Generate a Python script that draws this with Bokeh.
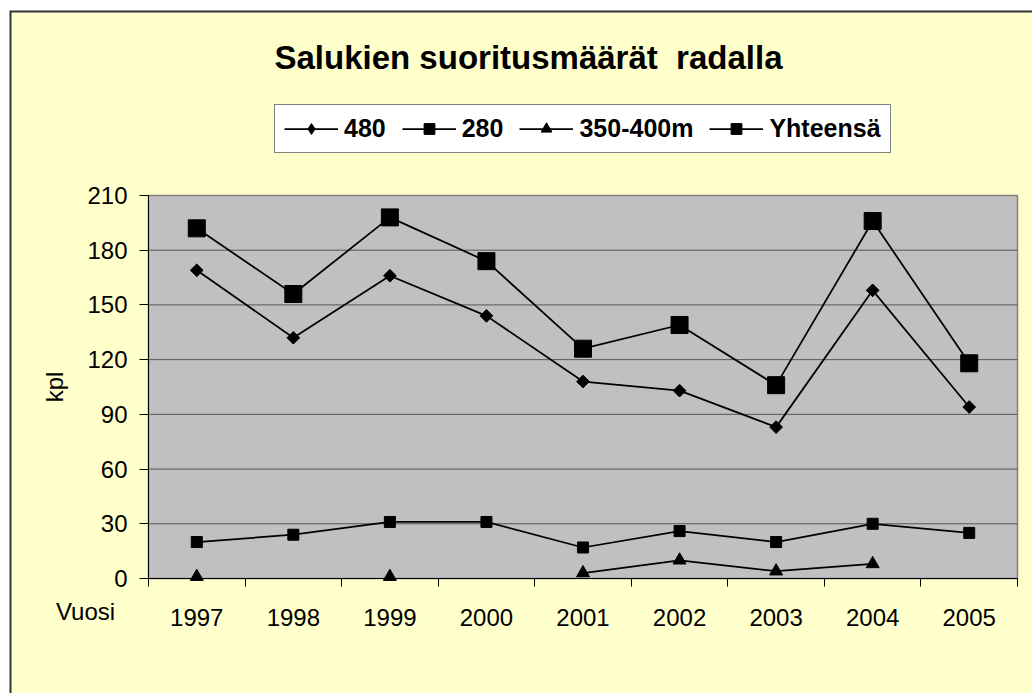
import math
from bokeh.plotting import figure
from bokeh.models import Range1d, FixedTicker, Legend, LegendItem, Label, BoxAnnotation
from bokeh.embed import file_html
from bokeh.resources import INLINE

# ---- data ----
years = ["1997", "1998", "1999", "2000", "2001", "2002", "2003", "2004", "2005"]
s480 = [169, 132, 166, 144, 108, 103, 83, 158, 94]
s280 = [20, 24, 31, 31, 17, 26, 20, 30, 25]
s350 = [1, float("nan"), 1, float("nan"), 3, 10, 4, 8, float("nan")]
total = [192, 156, 198, 174, 126, 139, 106, 196, 118]
y_ticks = [0, 30, 60, 90, 120, 150, 180, 210]

title_text = "Salukien suoritusmäärät \u00a0radalla"
FONT = "Liberation Sans"

W, H = 1032, 693
# plot-area placement on the canvas (pixels)
PL, PR, PT, PB = 148, 1017, 195, 578

xs = [i + 1 for i, _ in enumerate(years)]
xa, xb = 0.5, len(years) + 0.5
ya, yb = y_ticks[0], y_ticks[-1]
kx = (PR - PL) / (xb - xa)
ky = (PB - PT) / (yb - ya)
x_range = Range1d(xa - PL / kx, xb + (W - PR) / kx)
y_range = Range1d(ya - (H - PB) / ky, yb + PT / ky)

p = figure(width=W, height=H, output_backend="svg", toolbar_location=None,
           x_range=x_range, y_range=y_range, min_border=0)
p.border_fill_color = "white"
p.background_fill_color = "white"
p.outline_line_color = None
p.xgrid.visible = False
p.ygrid.visible = False
# off-screen range used only so the 480 legend key can show a diamond
p.extra_y_ranges = {"key": Range1d(10000, 20000)}

# chart area: dark top/left edge, pale yellow fill
p.add_layout(BoxAnnotation(left=9, right=W + 50, top=H - 10, bottom=-50,
                           left_units="screen", right_units="screen",
                           top_units="screen", bottom_units="screen", level="underlay",
                           fill_color="#333333", fill_alpha=1, line_color=None))
p.add_layout(BoxAnnotation(left=11, right=W + 50, top=H - 12, bottom=-50,
                           left_units="screen", right_units="screen",
                           top_units="screen", bottom_units="screen", level="underlay",
                           fill_color="#FFFFCC", fill_alpha=1, line_color=None))
# grey plot area
p.add_layout(BoxAnnotation(left=xa, right=xb, bottom=ya, top=yb, level="underlay",
                           fill_color="#C0C0C0", fill_alpha=1,
                           line_color="#808080", line_alpha=1, line_width=1.5))
# horizontal gridlines at the tick values
gy = y_ticks[1:-1]
p.segment(x0=[xa] * len(gy), y0=gy, x1=[xb] * len(gy), y1=gy,
          line_color="#555555", line_width=1)

# axes fixed to the plot-area edges
p.xaxis.fixed_location = ya
p.xaxis.bounds = (xa, xb)
p.xaxis.ticker = FixedTicker(ticks=xs, minor_ticks=[x - 0.5 for x in xs] + [xs[-1] + 0.5])
p.xaxis.major_label_overrides = {x: y for x, y in zip(xs, years)}
p.xaxis.major_tick_out = 0
p.xaxis.major_tick_in = 0
p.xaxis.minor_tick_out = 8
p.xaxis.minor_tick_in = 0
p.xaxis.major_label_standoff = 22
p.yaxis.fixed_location = xa
p.yaxis.bounds = (ya, yb)
p.yaxis.ticker = FixedTicker(ticks=y_ticks)
p.yaxis.minor_tick_out = 0
p.yaxis.minor_tick_in = 0
p.yaxis.major_tick_out = 9
p.yaxis.major_tick_in = 0
p.yaxis.major_label_standoff = 12
p.yaxis.axis_label = "kpl"
p.yaxis.axis_label_standoff = 16
p.yaxis.axis_label_text_font_style = "normal"
p.yaxis.axis_label_text_font_size = "24px"
p.yaxis.axis_label_text_font = FONT
p.yaxis.axis_label_text_color = "black"
for ax in (p.xaxis, p.yaxis):
    ax.axis_line_color = "black"
    ax.axis_line_width = 1
    ax.major_tick_line_color = "black"
    ax.minor_tick_line_color = "black"
    ax.major_label_text_font = FONT
    ax.major_label_text_font_size = "24px"
    ax.major_label_text_color = "black"

LW = 1.75
r480l = p.line(xs, s480, line_color="black", line_width=LW)
r480s = p.scatter(xs, s480, marker="square", size=9, angle=math.pi / 4, color="black")
r480k = p.scatter(xs, s480, marker="diamond", size=9, color="black", y_range_name="key")
r280l = p.line(xs, s280, line_color="black", line_width=LW)
r280s = p.scatter(xs, s280, marker="square", size=11, color="black")
r350l = p.line(xs, s350, line_color="black", line_width=LW)
r350s = p.scatter(xs, s350, marker="triangle", size=13, color="black")
rtotl = p.line(xs, total, line_color="black", line_width=LW)
rtots = p.scatter(xs, total, marker="square", size=17, color="black")

legend = Legend(items=[
    LegendItem(label="480", renderers=[r480l, r480k]),
    LegendItem(label="280", renderers=[r280l, r280s]),
    LegendItem(label="350-400m", renderers=[r350l, r350s]),
    LegendItem(label="Yhteensä", renderers=[rtotl, rtots]),
], orientation="horizontal", location=(274, H - 153))
legend.label_text_font = FONT
legend.label_text_font_style = "bold"
legend.label_text_font_size = "25px"
legend.label_text_color = "black"
legend.border_line_color = "black"
legend.border_line_width = 1
legend.background_fill_color = "white"
legend.background_fill_alpha = 1
legend.glyph_width = 54
legend.glyph_height = 27
legend.label_height = 27
legend.label_standoff = 6
legend.spacing = 16
legend.padding = 9
legend.margin = 0
p.add_layout(legend)

p.add_layout(Label(x=528, y=H - 57, x_units="screen", y_units="screen", text=title_text,
                   text_align="center", text_baseline="alphabetic",
                   text_font=FONT, text_font_style="bold", text_font_size="33px",
                   text_color="black"))
p.add_layout(Label(x=85, y=H - 611, x_units="screen", y_units="screen", text="Vuosi",
                   text_align="center", text_baseline="middle",
                   text_font=FONT, text_font_size="24px", text_color="black"))

open("out.html", "w").write(file_html(p, INLINE))
